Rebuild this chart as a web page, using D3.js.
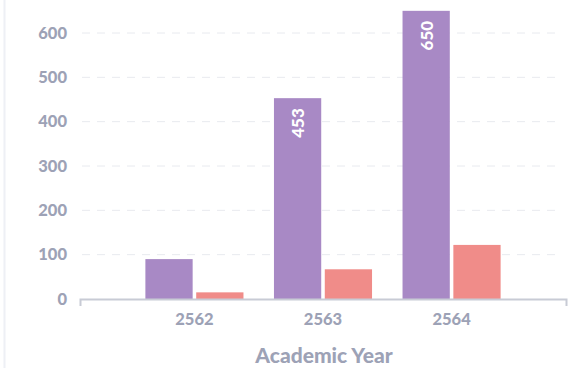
<!DOCTYPE html>
<html>
<head>
<meta charset="utf-8">
<script src="https://cdn.jsdelivr.net/npm/d3@7/dist/d3.min.js"></script>
<style>
  html, body { margin: 0; padding: 0; background: #fff; }
  svg { display: block; font-family: Lato, "Open Sans", sans-serif; }
</style>
</head>
<body>
<svg id="chart" width="585" height="368"></svg>
<script>
// Academic years on the x axis
const years = ["2562", "2563", "2564"];
// Two series per year
const seriesNames = ["total", "subset"];
const totalValues = [90, 453, 650];
const subsetValues = [15, 67, 122];
// Y axis ticks
const yTicks = [0, 100, 200, 300, 400, 500, 600];
const seriesColors = ["#a889c5", "#f08c89"];

const rows = years.map((y, i) => ({ year: y, total: totalValues[i], subset: subsetValues[i] }));

const svg = d3.select("#chart");
const labelColor = "#9da2b6";

// card edge on the left
svg.append("line")
  .attr("x1", 4.5).attr("x2", 4.5).attr("y1", 0).attr("y2", 368)
  .attr("stroke", "#eef0f5").attr("stroke-width", 2);

const plotLeft = 80, plotRight = 566, plotTop = 33, plotBottom = 299;

const y = d3.scaleLinear().domain([0, 600]).range([plotBottom, plotTop]);
const x = d3.scaleBand().domain(years).range([plotLeft, plotRight])
  .paddingInner(0).paddingOuter(0.39);
const xs = d3.scaleBand().domain(seriesNames).range([0, x.bandwidth()])
  .paddingInner(0.07).paddingOuter(0.3);
const color = d3.scaleOrdinal().domain(seriesNames).range(seriesColors);

// dashed grid lines
svg.append("g")
  .selectAll("line")
  .data(yTicks.filter(t => t > 0))
  .join("line")
  .attr("x1", 82).attr("x2", 560)
  .attr("y1", d => y(d)).attr("y2", d => y(d))
  .attr("stroke", "#e8eaef").attr("stroke-width", 1)
  .attr("stroke-dasharray", "8 7");

// y axis labels
const yAxis = svg.append("g")
  .attr("transform", `translate(${plotLeft - 13},0)`)
  .call(d3.axisLeft(y).tickValues(yTicks).tickSize(0).tickPadding(0));
yAxis.select(".domain").remove();
yAxis.selectAll("text")
  .attr("fill", labelColor)
  .attr("font-size", 16.5)
  .attr("font-weight", 900)
  .attr("font-family", "Lato, sans-serif");

// bars
const groups = svg.append("g")
  .selectAll("g")
  .data(rows)
  .join("g")
  .attr("transform", d => `translate(${x(d.year)},0)`);

groups.selectAll("rect")
  .data(d => seriesNames.map(k => ({ key: k, value: d[k] })))
  .join("rect")
  .attr("x", d => xs(d.key))
  .attr("width", xs.bandwidth())
  .attr("y", d => y(d.value))
  .attr("height", d => y(0) - y(d.value))
  .attr("fill", d => color(d.key));

// value labels inside the tall bars
groups.selectAll("text.val")
  .data(d => seriesNames.map(k => ({ key: k, value: d[k] }))
    .filter(v => v.key === "total" && v.value >= 300))
  .join("text")
  .attr("class", "val")
  .attr("transform", d => `translate(${xs(d.key) + xs.bandwidth() / 2},${y(d.value) + 10}) rotate(-90)`)
  .attr("text-anchor", "end")
  .attr("dominant-baseline", "central")
  .attr("fill", "#ffffff")
  .attr("font-size", 17)
  .attr("font-weight", 900)
  .attr("font-family", "Lato, sans-serif")
  .text(d => d.value);

// x axis
const xAxis = svg.append("g")
  .attr("transform", `translate(0,${plotBottom})`)
  .call(d3.axisBottom(x).tickSizeInner(0).tickSizeOuter(7).tickPadding(14));
xAxis.select(".domain")
  .attr("stroke", "#c8cbd5").attr("stroke-width", 2);
xAxis.selectAll("text")
  .attr("fill", labelColor)
  .attr("font-size", 16.5)
  .attr("font-weight", 900)
  .attr("font-family", "Lato, sans-serif");

// axis title
svg.append("text")
  .attr("x", 324).attr("y", 363)
  .attr("text-anchor", "middle")
  .attr("fill", labelColor)
  .attr("font-size", 21)
  .attr("font-weight", 900)
  .attr("font-family", "Lato, sans-serif")
  .text("Academic Year");
</script>
</body>
</html>
